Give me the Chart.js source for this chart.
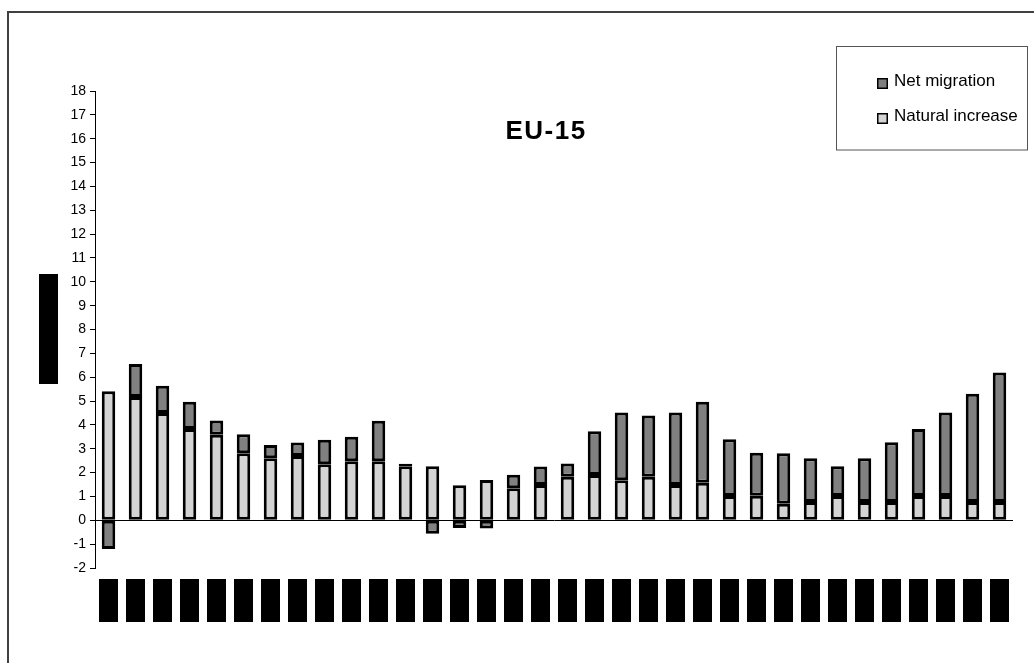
<!DOCTYPE html>
<html>
<head>
<meta charset="utf-8">
<script src="https://cdn.jsdelivr.net/npm/chart.js@4/dist/chart.umd.min.js"></script>
<style>
  html, body { margin: 0; padding: 0; background: #fff; }
  #wrap { width: 1034px; height: 663px; position: relative; }
  canvas { display: block; }
</style>
</head>
<body>
<div id="wrap"><canvas id="c" width="1034" height="663"></canvas></div>
<script>
// Components of population change, EU-15, per 1000 inhabitants
const years = [
  '1970','1971','1972','1973','1974','1975','1976','1977','1978','1979',
  '1980','1981','1982','1983','1984','1985','1986','1987','1988','1989',
  '1990','1991','1992','1993','1994','1995','1996','1997','1998','1999',
  '2000','2001','2002','2003'
];
const naturalIncrease = [
  5.41, 5.17, 4.50, 3.83, 3.59, 2.81, 2.60, 2.70, 2.35, 2.48,
  2.48, 2.27, 2.27, 1.47, 1.69, 1.34, 1.48, 1.83, 1.90, 1.68,
  1.83, 1.48, 1.57, 1.02, 1.03, 0.69, 0.77, 1.02, 0.77, 0.77,
  1.02, 1.02, 0.77, 0.77
];
const netMigration = [
  -1.20, 1.38, 1.14, 1.14, 0.59, 0.80, 0.56, 0.56, 1.03, 1.02,
  1.69, 0.10, -0.56, -0.32, -0.34, 0.57, 0.78, 0.55, 1.83, 2.84,
  2.56, 3.04, 3.40, 2.38, 1.80, 2.12, 1.83, 1.25, 1.83, 2.50,
  2.81, 3.50, 4.54, 5.43
];
const yMin = -2;
const yMax = 18;
const yStep = 1;
const chartTitle = 'EU-15';
const yAxisTitle = 'per 1000';

const FONT = '"Liberation Sans", Arial, sans-serif';

// Frame, title, legend box, label blocks
const decorations = {
  id: 'decorations',
  beforeDraw(chart) {
    const ctx = chart.ctx;
    ctx.save();
    ctx.fillStyle = '#fff';
    ctx.fillRect(0, 0, chart.width, chart.height);
    ctx.restore();
  },
  afterDraw(chart) {
    const ctx = chart.ctx;
    const x = chart.scales.x;
    ctx.save();

    // outer frame (left and top edges)
    ctx.fillStyle = '#404040';
    ctx.fillRect(7, 11, 2, chart.height - 11);
    ctx.fillRect(7, 11, chart.width - 7, 2);

    // title
    ctx.fillStyle = '#000';
    ctx.font = 'bold 26px ' + FONT;
    ctx.letterSpacing = '1.5px';
    ctx.textAlign = 'center';
    ctx.textBaseline = 'alphabetic';
    ctx.fillText(chartTitle, 546, 139);
    ctx.letterSpacing = '0px';

    // y axis title block
    ctx.fillStyle = '#000';
    ctx.fillRect(39, 274, 19, 110);
    ctx.save();
    ctx.beginPath();
    ctx.rect(39, 274, 19, 110);
    ctx.clip();
    ctx.translate(48.5, 329);
    ctx.rotate(-Math.PI / 2);
    ctx.font = '13px ' + FONT;
    ctx.textAlign = 'center';
    ctx.textBaseline = 'middle';
    ctx.fillStyle = '#000';
    ctx.fillText(yAxisTitle, 0, 0);
    ctx.restore();

    // category labels, rotated, in black blocks
    ctx.font = '14px ' + FONT;
    years.forEach((lab, i) => {
      const cx = x.getPixelForValue(i);
      const h = 43;
      ctx.fillStyle = '#000';
      ctx.fillRect(Math.round(cx - 9.5), 579, 19, h);
      ctx.save();
      ctx.translate(cx, 579 + h / 2);
      ctx.rotate(-Math.PI / 2);
      ctx.textAlign = 'center';
      ctx.textBaseline = 'middle';
      ctx.fillText(lab, 0, 0);
      ctx.restore();
    });

    // legend
    ctx.fillStyle = '#fff';
    ctx.fillRect(836, 46, 192, 104);
    ctx.strokeStyle = '#555';
    ctx.lineWidth = 1;
    ctx.strokeRect(836.5, 46.5, 191, 103.5);
    const items = chart.data.datasets.slice().reverse();
    items.forEach((ds, i) => {
      const sy = 78 + i * 35;
      ctx.fillStyle = ds.backgroundColor;
      ctx.fillRect(877, sy, 11, 11);
      ctx.strokeStyle = '#000';
      ctx.lineWidth = 1.5;
      ctx.strokeRect(877.75, sy + 0.75, 9.5, 9.5);
      ctx.fillStyle = '#000';
      ctx.font = '17px ' + FONT;
      ctx.textAlign = 'left';
      ctx.textBaseline = 'alphabetic';
      ctx.fillText(ds.label, 894, sy + 8);
    });

    ctx.restore();
  }
};

new Chart(document.getElementById('c'), {
  type: 'bar',
  data: {
    labels: years,
    datasets: [
      {
        label: 'Natural increase',
        data: naturalIncrease,
        backgroundColor: '#d4d4d4',
        borderColor: '#000',
        borderWidth: 3,
        borderSkipped: false,
        stack: 's'
      },
      {
        label: 'Net migration',
        data: netMigration,
        backgroundColor: '#808080',
        borderColor: '#000',
        borderWidth: 3,
        borderSkipped: false,
        stack: 's'
      }
    ]
  },
  options: {
    responsive: false,
    animation: false,
    devicePixelRatio: 1,
    layout: { padding: { top: 91, right: 21, bottom: 95, left: 0 } },
    datasets: { bar: { categoryPercentage: 1.0, barPercentage: 0.5 } },
    plugins: {
      legend: { display: false },
      title: { display: false },
      tooltip: { enabled: false }
    },
    scales: {
      x: {
        type: 'category',
        stacked: true,
        display: false,
        offset: true
      },
      y: {
        stacked: true,
        min: yMin,
        max: yMax,
        afterFit(scale) { scale.width = 95; },
        ticks: {
          stepSize: yStep,
          color: '#000',
          font: { family: FONT, size: 14 },
          padding: 4
        },
        grid: {
          drawOnChartArea: true,
          color: c => (c.tick && c.tick.value === 0 ? '#000' : 'rgba(0,0,0,0)'),
          lineWidth: 1,
          drawTicks: true,
          tickLength: 5,
          tickColor: '#000',
          tickWidth: 1
        },
        border: { display: true, color: '#000', width: 1 }
      }
    }
  },
  plugins: [decorations]
});
</script>
</body>
</html>
